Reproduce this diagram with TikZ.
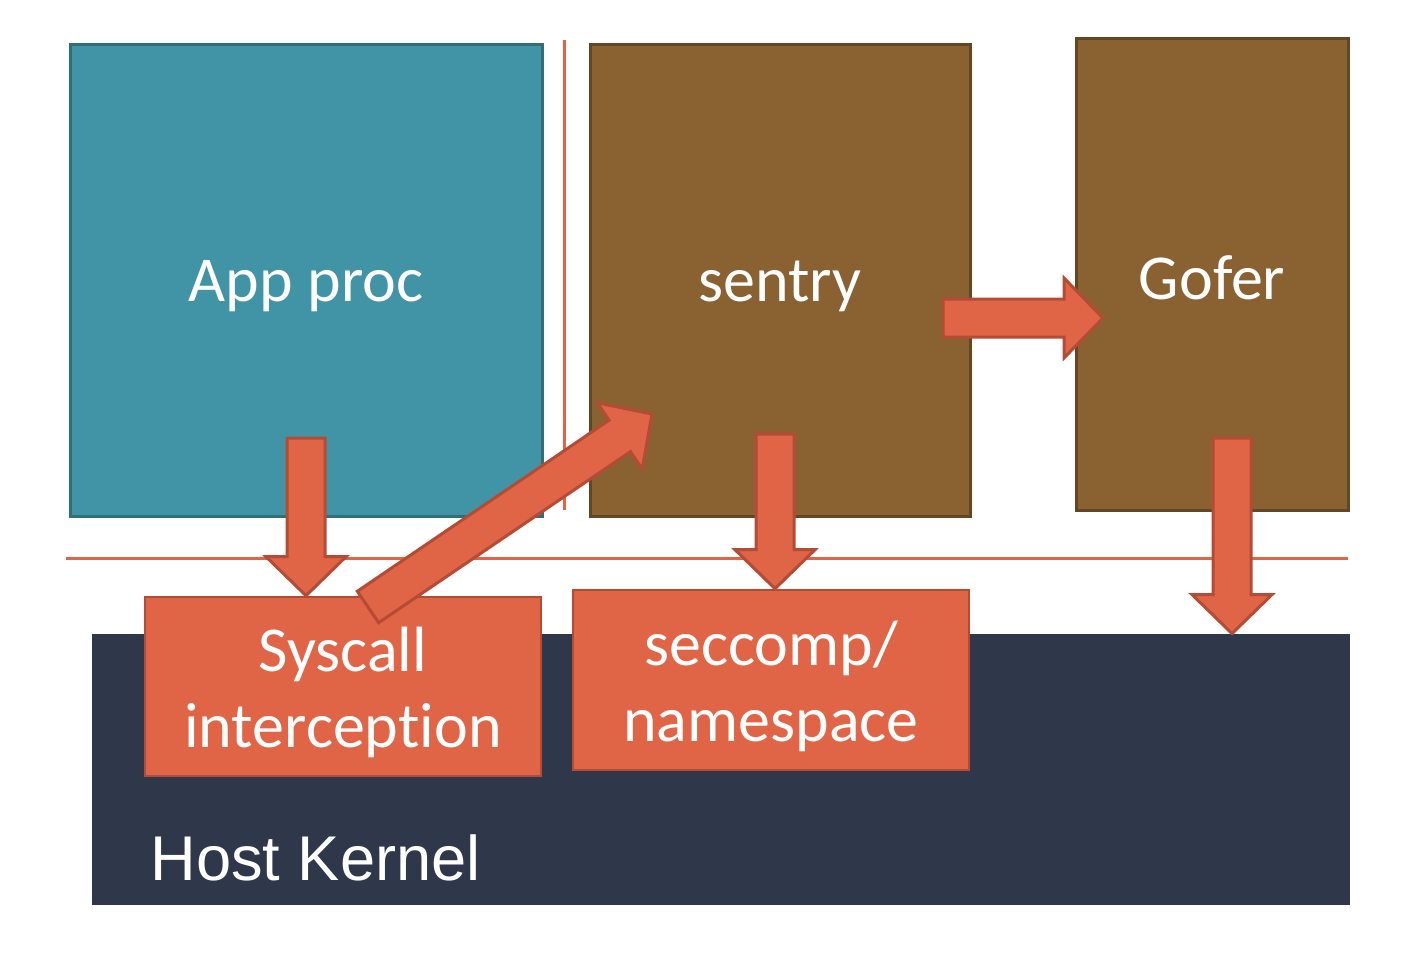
\documentclass[tikz,border=0pt]{standalone}
\usepackage{fontspec}
\setmainfont{Carlito}[Ligatures=NoCommon]
\newfontfamily\kernelfont{Liberation Sans}
\usetikzlibrary{calc,positioning}

\definecolor{appteal}{HTML}{4194A5}
\definecolor{appborder}{HTML}{2F6E7A}
\definecolor{sentrybrown}{HTML}{8A6232}
\definecolor{sentryborder}{HTML}{634624}
\definecolor{redbox}{HTML}{E06446}
\definecolor{redborder}{HTML}{B44B35}
\definecolor{kernelnavy}{HTML}{2E384A}

% block arrow from #1 to #2
\newcommand{\bigarrow}[2]{%
  \draw[block arrow] let \p1=($(#2)-(#1)$), \n1={atan2(\y1,\x1)}, \n2={veclen(\x1,\y1)} in
    [shift={(#1)}, rotate=\n1]
    (0pt,-9.5pt) -- (\n2-19.5pt,-9.5pt) -- (\n2-19.5pt,-20pt) -- (\n2,0pt)
    -- (\n2-19.5pt,20pt) -- (\n2-19.5pt,9.5pt) -- (0pt,9.5pt) -- cycle;
}

\begin{document}
\begin{tikzpicture}[x=0.5pt,y=-0.5pt,
    big text/.style={font=\fontsize{32}{38}\selectfont, text=white, align=center, yshift=-3pt},
    app box/.style={rectangle, draw=appborder, fill=appteal, line width=1.5pt},
    proc box/.style={rectangle, draw=sentryborder, fill=sentrybrown, line width=1.5pt},
    red box/.style={rectangle, draw=redborder, fill=redbox, line width=1.3pt},
    block arrow/.style={draw=redborder, fill=redbox, line width=1.5pt, line join=miter},
    split line/.style={draw=redbox, line width=1.5pt}]

\useasboundingbox (0,0) rectangle (1412,958);

% upper row
\node (app) [app box, minimum width=236pt, minimum height=236pt,
  label={[big text]center:App proc}] at (306,280) {};
\node (sentry) [proc box, minimum width=190pt, minimum height=236pt,
  label={[big text]center:sentry}] at (780,280) {};
\node (gofer) [proc box, minimum width=136pt, minimum height=236pt,
  label={[big text, yshift=1pt]center:Gofer}] at (1212,274) {};

\draw[split line] (564,40) -- (564,510);
\draw[split line] (66,558) -- (1348,558);

% kernel and lower boxes
\node (kernel) [rectangle, fill=kernelnavy, minimum width=629pt, minimum height=135.5pt] at (721,769.5) {};
\node (kernellabel) [anchor=base west, text=white, font=\kernelfont\fontsize{31.6}{36}\selectfont, inner sep=0pt] at (150,880) {Host Kernel};
\node (syscall) [red box, minimum width=198pt, minimum height=89.5pt,
  label={[big text]center:Syscall\\interception}] at (343,686.5) {};
\node (seccomp) [red box, minimum width=198pt, minimum height=90pt,
  label={[big text]center:seccomp/\\namespace}] at (771,680) {};

% arrows
\coordinate (appA) at (306,438);
\coordinate (sentryA) at (775,434);
\coordinate (goferA) at (1232,438);
\coordinate (sentryB) at (943,318);
\coordinate (goferTip) at (1103,318);
\coordinate (syscallA) at (368,607);
\coordinate (sentryTip) at (652,414);

\bigarrow{appA}{appA |- syscall.north}
\bigarrow{sentryA}{sentryA |- seccomp.north}
\bigarrow{goferA}{goferA |- kernel.north}
\bigarrow{sentryB}{goferTip}
\bigarrow{syscallA}{sentryTip}

\end{tikzpicture}
\end{document}
